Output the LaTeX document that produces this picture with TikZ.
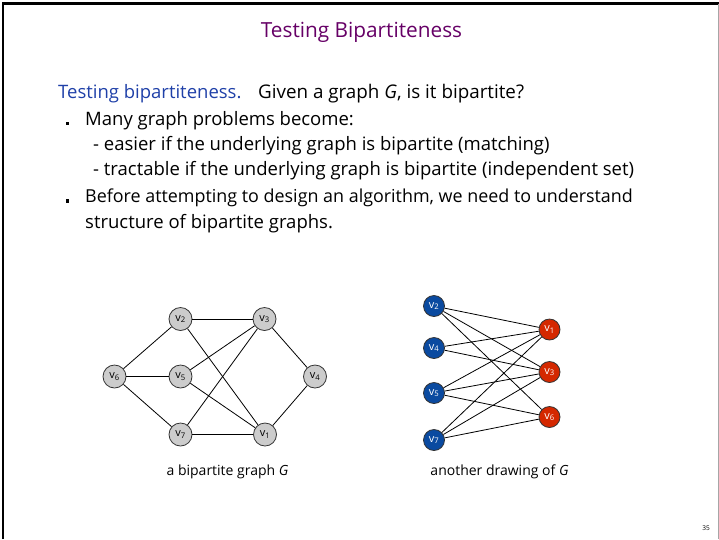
\documentclass[tikz,border=0pt]{standalone}
\usepackage{fontspec}
\setmainfont{Open Sans}
\definecolor{titlepurple}{HTML}{660066}
\definecolor{headblue}{HTML}{1F40A8}
\definecolor{nodeblue}{HTML}{0A4AA0}
\definecolor{nodered}{HTML}{D42800}
\definecolor{nodegray}{HTML}{CCCCCC}
\newcommand{\vx}[1]{v\textsubscript{#1}}
\begin{document}
\begin{tikzpicture}[x=1pt,y=-1pt,
  txt/.style={anchor=base west, inner sep=0pt, font=\fontsize{18.5}{20}\selectfont},
  bulletsq/.style={fill=black, minimum size=3.8pt, inner sep=0pt},
  gnode/.style={circle, draw=black!80, line width=0.8pt, fill=nodegray, minimum size=23pt, inner sep=0pt, font=\fontsize{11}{11}\selectfont},
  bnode/.style={circle, draw=black!80, line width=0.8pt, fill=nodeblue, text=white, minimum size=21pt, inner sep=0pt, font=\fontsize{11}{11}\selectfont},
  rnode/.style={circle, draw=black!80, line width=0.8pt, fill=nodered, text=white, minimum size=21pt, inner sep=0pt, font=\fontsize{11}{11}\selectfont},
  edge/.style={line width=0.8pt},
  caption/.style={anchor=base, inner sep=0pt, font=\fontsize{14}{15}\selectfont}]
\useasboundingbox (0,0) rectangle (719,539);

% slide frame
\draw[line width=2.5pt] (3,539) -- (3,3.5) -- (719,3.5);
\draw[black!35, line width=1pt] (718,3.5) -- (718,539);

% title
\node[anchor=base, inner sep=0pt, text=titlepurple, font=\fontsize{20.8}{22}\selectfont] (title) at (361.5,37) {Testing Bipartiteness};

% body text
\node[txt, text=headblue] (head) at (58,98) {Testing bipartiteness.};
\node[txt, font=\fontsize{18.8}{20}\selectfont] (question) at (258,98) {Given a graph \textit{G}, is it bipartite?};
\node[bulletsq] (b1) at (67.5,123.5) {};
\node[txt] (l2) at (85,125) {Many graph problems become:};
\node[txt] (l3) at (93,150) {- easier if the underlying graph is bipartite (matching)};
\node[txt] (l4) at (93,175) {- tractable if the underlying graph is bipartite (independent set)};
\node[bulletsq] (b2) at (67.5,201) {};
\node[txt, font=\fontsize{17.9}{20}\selectfont] (l5) at (85,202.5) {Before attempting to design an algorithm, we need to understand};
\node[txt] (l6) at (85,228) {structure of bipartite graphs.};

% first drawing
\node[gnode] (a2) at (180.5,319) {\vx2};
\node[gnode] (a3) at (264.5,319) {\vx3};
\node[gnode] (a6) at (114.5,376.5) {\vx6};
\node[gnode] (a5) at (180.5,376.5) {\vx5};
\node[gnode] (a4) at (315,376.5) {\vx4};
\node[gnode] (a7) at (180.5,434.5) {\vx7};
\node[gnode] (a1) at (265,434.5) {\vx1};
\foreach \u/\w in {a6/a2, a6/a5, a6/a7, a2/a3, a2/a1, a5/a3, a5/a1, a7/a3, a7/a1, a3/a4, a4/a1}
  \draw[edge] (\u) -- (\w);

% second drawing
\node[bnode] (c2) at (434,306) {\vx2};
\node[bnode] (c4) at (434,348) {\vx4};
\node[bnode] (c5) at (434,393) {\vx5};
\node[bnode] (c7) at (434,440) {\vx7};
\node[rnode] (c1) at (549.5,329.5) {\vx1};
\node[rnode] (c3) at (549.5,372) {\vx3};
\node[rnode] (c6) at (549.5,417) {\vx6};
\foreach \u/\w in {c2/c1, c2/c3, c2/c6, c4/c1, c4/c3, c5/c1, c5/c3, c5/c6, c7/c1, c7/c3, c7/c6}
  \draw[edge] (\u) -- (\w);

% captions
\node[caption] (cap1) at (227.5,475) {a bipartite graph \textit{G}};
\node[caption] (cap2) at (499.5,475) {another drawing of \textit{G}};

% page number
\node[anchor=base east, inner sep=0pt, font=\fontsize{6.5}{7}\selectfont] (page) at (710,530) {35};
\end{tikzpicture}
\end{document}
